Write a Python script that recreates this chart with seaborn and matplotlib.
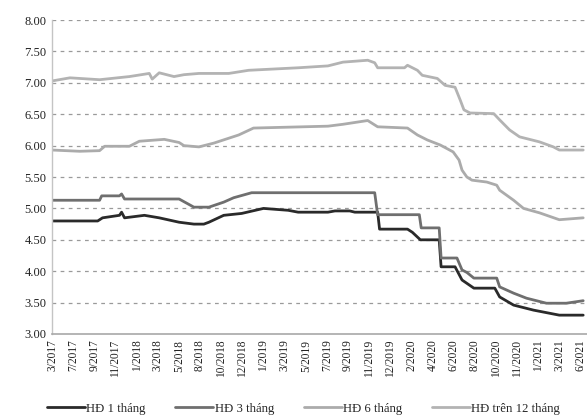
import matplotlib
matplotlib.use("Agg")
import matplotlib.pyplot as plt
import seaborn as sns
import pandas as pd

# Category tick labels along the x axis (evenly spaced observation ticks)
tick_labels = ["3/2017", "7/2017", "9/2017", "11/2017", "1/2018", "3/2018", "5/2018",
               "8/2018", "10/2018", "12/2018", "1/2019", "3/2019", "5/2019", "7/2019",
               "9/2019", "11/2019", "12/2019", "2/2020", "4/2020", "6/2020", "8/2020",
               "10/2020", "11/2020", "1/2021", "3/2021", "6/2021"]

# Series: positions in tick units and interest rates (%)
x_1m = [0, 2.16, 2.39, 3.19, 3.29, 3.43, 4.37, 5.07, 6.01, 6.71, 7.18, 7.42, 8.12, 8.97,
        10.0, 11.17, 11.64, 13.05, 13.38, 14.08, 14.32, 15.40, 15.49, 16.81, 17.04, 17.42,
        18.31, 18.40, 19.06, 19.39, 19.95, 20.94, 21.17, 21.83, 22.77, 23.99, 25.12]
y_1m = [4.80, 4.80, 4.85, 4.89, 4.94, 4.85, 4.89, 4.85, 4.78, 4.75, 4.75, 4.78, 4.89, 4.92,
        5.00, 4.97, 4.94, 4.94, 4.96, 4.96, 4.94, 4.94, 4.67, 4.67, 4.62, 4.50,
        4.50, 4.07, 4.07, 3.86, 3.73, 3.73, 3.59, 3.46, 3.38, 3.30, 3.30]

x_3m = [0, 2.25, 2.35, 3.19, 3.29, 3.43, 6.01, 6.71, 7.42, 8.12, 8.59, 9.44, 15.26, 15.40,
        17.37, 17.46, 18.31, 18.40, 19.15, 19.39, 19.62, 19.95, 21.03, 21.17, 21.83, 22.44,
        23.38, 24.32, 25.12]
y_3m = [5.13, 5.13, 5.20, 5.20, 5.23, 5.15, 5.15, 5.02, 5.02, 5.10, 5.17, 5.25, 5.25, 4.90,
        4.90, 4.69, 4.69, 4.21, 4.21, 4.02, 3.98, 3.89, 3.89, 3.75, 3.65, 3.57,
        3.49, 3.49, 3.53]

x_6m = [0, 1.31, 2.25, 2.49, 3.66, 4.13, 5.31, 6.01, 6.24, 6.95, 7.65, 8.83, 9.53, 10.70,
        13.05, 13.76, 14.93, 15.40, 16.81, 17.28, 17.75, 18.36, 18.97, 19.25, 19.39, 19.62,
        19.86, 20.56, 21.03, 21.17, 21.83, 22.30, 23.05, 23.99, 25.12]
y_6m = [5.93, 5.91, 5.92, 5.99, 5.99, 6.07, 6.10, 6.05, 6.00, 5.98, 6.04, 6.17, 6.28, 6.29,
        6.31, 6.34, 6.40, 6.30, 6.28, 6.17, 6.09, 6.01, 5.90, 5.77, 5.61, 5.50,
        5.45, 5.42, 5.37, 5.29, 5.13, 5.00, 4.93, 4.82, 4.85]

x_12m = [0, 0.85, 2.25, 3.66, 4.60, 4.74, 5.07, 5.77, 6.24, 6.95, 8.36, 9.30, 11.64, 13.05,
         13.76, 14.93, 15.26, 15.40, 16.67, 16.81, 17.28, 17.51, 18.22, 18.59, 19.06, 19.30,
         19.48, 19.77, 20.89, 21.17, 21.64, 22.11, 23.05, 23.71, 23.99, 25.12]
y_12m = [7.03, 7.08, 7.05, 7.10, 7.15, 7.06, 7.16, 7.10, 7.13, 7.15, 7.15, 7.20, 7.24, 7.27,
         7.33, 7.36, 7.32, 7.24, 7.24, 7.28, 7.20, 7.12, 7.07, 6.96, 6.93, 6.73,
         6.57, 6.52, 6.51, 6.41, 6.25, 6.14, 6.06, 5.98, 5.93, 5.93]

series_names = ["HĐ 1 tháng", "HĐ 3 tháng", "HĐ 6 tháng", "HĐ trên 12 tháng"]
series_x = [x_1m, x_3m, x_6m, x_12m]
series_y = [y_1m, y_3m, y_6m, y_12m]
colors = ["#2a2a2a", "#6f6f6f", "#ababab", "#b3b3b3"]

sns.set_theme(style="white")
plt.rcParams["font.family"] = ["Liberation Serif", "DejaVu Serif"]

fig = plt.figure(figsize=(5.87, 4.18), dpi=100)
ax = fig.add_axes([0.0886, 0.201, 0.9114, 0.751])

for name, xs, ys, c in zip(series_names, series_x, series_y, colors):
    df = pd.DataFrame({"x": xs, "y": ys})
    sns.lineplot(data=df, x="x", y="y", ax=ax, color=c, linewidth=2.0,
                 estimator=None, sort=False, label=name)

ax.set_ylim(3.0, 8.0)
ax.set_xlim(0, 25.3)
yt = [3.0 + 0.5 * i for i in range(11)]
ax.set_yticks(yt)
ax.set_yticklabels([f"{v:.2f}" for v in yt], fontsize=9, color="#222222")
ax.set_xticks(range(len(tick_labels)))
ax.set_xticklabels(tick_labels, rotation=90, fontsize=8.3, color="#222222")
ax.tick_params(axis="both", length=0, pad=4)
ax.set_xlabel("")
ax.set_ylabel("")

for v in yt[1:]:
    ax.axhline(v, color="#9a9a9a", linewidth=0.9, linestyle=(0, (3, 3.5)), zorder=0)

for side in ["top", "right"]:
    ax.spines[side].set_visible(False)
ax.spines["left"].set_color("#c4c4c4")
ax.spines["left"].set_linewidth(1.0)
ax.spines["bottom"].set_color("#a8a8a8")
ax.spines["bottom"].set_linewidth(1.2)

ax.legend(loc="center", bbox_to_anchor=(0.47, -0.238), ncol=4, frameon=False,
          fontsize=9.2, handlelength=3.0, handletextpad=0.1, columnspacing=2.3,
          borderpad=0.1)

fig.savefig("out.png", dpi=100)
